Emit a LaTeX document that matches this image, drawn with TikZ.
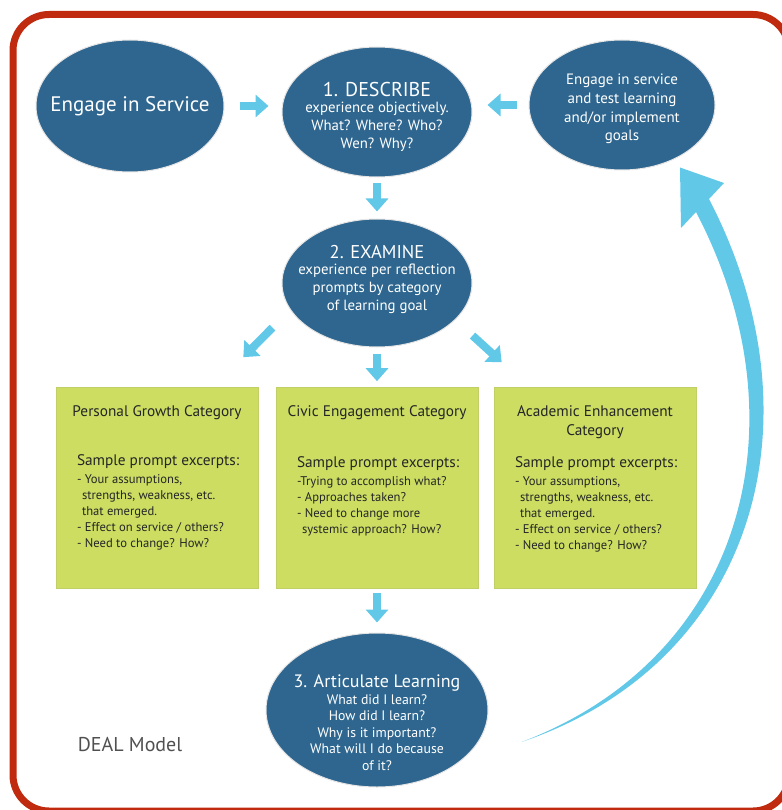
\documentclass[tikz,border=0pt]{standalone}
\usepackage{fontspec}
\setmainfont{PT Sans}
\usetikzlibrary{shapes.geometric, positioning, arrows.meta, calc}

\definecolor{stageblue}{RGB}{46,102,143}
\definecolor{boxgreen}{RGB}{204,221,98}
\definecolor{arrowblue}{RGB}{98,200,232}
\definecolor{framered}{RGB}{192,42,14}
\definecolor{labelgray}{RGB}{80,80,80}

\newcommand{\stagetitle}{\fontsize{20}{24}\selectfont}
\newcommand{\stagetext}{\fontsize{14.8}{17.8}\selectfont}
\newcommand{\cardtitle}{\fontsize{15.3}{19}\selectfont}
\newcommand{\cardsample}{\fontsize{15.3}{18}\selectfont}
\newcommand{\carditem}{\fontsize{12.6}{16}\selectfont}

\tikzset{
  stage/.style={ellipse, fill=stageblue, draw=gray!20, line width=1pt,
    text=white, align=center, inner sep=-40pt, font=\stagetext},
  promptbox/.style={rectangle, fill=boxgreen, draw=boxgreen!85!gray,
    line width=0.6pt, minimum width=202pt, minimum height=201pt,
    inner sep=0pt, text=black!85},
  blockarrow/.style={draw=arrowblue, line width=8pt,
    -{Triangle[width=22pt,length=13pt]}},
}

\begin{document}
\begin{tikzpicture}[x=1pt, y=-1pt, on grid]
\useasboundingbox (0,0) rectangle (781,810);
\draw[framered, line width=7pt, rounded corners=36pt] (13,14.5) rectangle (789,811);

% stages of the model
\node[stage, minimum width=190pt, minimum height=130pt] (describe) at (377,112)
  {\mbox{}\\[6pt]{\stagetitle 1. DESCRIBE}\\[-1pt] experience objectively.\\ What? Where? Who?\\ Wen? Why?};
\node[stage, minimum width=188pt, minimum height=132pt, left=247pt of describe, yshift=6pt,
  font=\fontsize{21}{24}\selectfont] (engage) {Engage in Service};
\node[stage, minimum width=186pt, minimum height=130pt, right=245pt of describe, yshift=7pt,
  font=\fontsize{15}{18.7}\selectfont] (goal)
  {\mbox{}\\ Engage in service\\ and test learning\\ and/or implement\\ goals};
\node[stage, minimum width=190pt, minimum height=128pt, below=171pt of describe] (examine)
  {{\fontsize{18.5}{24}\selectfont 2. EXAMINE}\\[-2pt] experience per reflection\\ prompts by category\\ of learning goal\\[-8pt]\mbox{}};

% prompt categories
\node[promptbox, below=205pt of examine] (civic)
  {\parbox[c][170pt][t]{184pt}{\vspace*{3pt}\centering\cardtitle Civic Engagement Category\par
   \vspace{32pt}\raggedright\leftskip=12pt
   {\cardsample Sample prompt excerpts:}\\[1.5pt]
   \carditem -Trying to accomplish what?\\
   - Approaches taken?\\
   - Need to change more\\
   \hspace*{5pt}systemic approach? How?\par}};
\node[promptbox, left=220pt of civic] (personal)
  {\parbox[c][170pt][t]{184pt}{\vspace*{3pt}\centering\cardtitle Personal Growth Category\par
   \vspace{30pt}\raggedright\leftskip=12pt
   {\cardsample Sample prompt excerpts:}\\[1.5pt]
   \carditem - Your assumptions,\\
   \hspace*{5pt}strengths, weakness, etc.\\
   \hspace*{5pt}that emerged.\\
   - Effect on service / others?\\
   - Need to change? How?\par}};
\node[promptbox, right=218pt of civic] (academic)
  {\parbox[c][170pt][t]{184pt}{\vspace*{3pt}\centering\cardtitle Academic Enhancement\\ Category\par
   \vspace{13pt}\raggedright\leftskip=12pt
   {\cardsample Sample prompt excerpts:}\\[1.5pt]
   \carditem - Your assumptions,\\
   \hspace*{5pt}strengths, weakness, etc.\\
   \hspace*{5pt}that emerged.\\
   - Effect on service / others?\\
   - Need to change? How?\par}};

\node[stage, minimum width=222pt, minimum height=154pt, below=222pt of civic,
  font=\fontsize{13.8}{16.5}\selectfont] (articulate)
  {\mbox{}\\[22pt]{\fontsize{18}{22}\selectfont 3. Articulate Learning}\\[0pt]
   What did I learn?\\ How did I learn?\\ Why is it important?\\
   What will I do because\\ of it?};

\node[text=labelgray, font=\fontsize{20}{24}\selectfont] (caption) at (130,745) {DEAL Model};

% connectors
\draw[blockarrow, shorten <=15pt, shorten >=13pt] (engage.east) -- (engage.east -| describe.west);
\draw[blockarrow, shorten <=12pt, shorten >=15pt] (goal.west) -- (goal.west -| describe.east);
\draw[blockarrow, shorten <=6pt, shorten >=7pt] (describe.south) -- (examine.north);
\draw[blockarrow, shorten <=6pt, shorten >=6pt] (examine.south) -- (civic.north);
\draw[blockarrow] ($(examine.south west)+(-37,-1)$) -- ($(personal.north east)+(-15,-30)$);
\draw[blockarrow] ($(examine.south east)+(28,7)$) -- ($(academic.north west)+(8,-25)$);
\draw[blockarrow, shorten <=4pt, shorten >=10pt] (civic.south) -- (articulate.north);

% loop back to service
\coordinate (loopstart) at ($(articulate.east)+(33,32)$);
\coordinate (looptip) at ($(goal.south)+(58,-3)$);
\fill[arrowblue] (loopstart) .. controls (755,663) and (824,420) .. (709,199)
  -- (724,183) -- (looptip) -- (681,228) -- (696,212)
  .. controls (806,422) and (745,657) .. (loopstart) -- cycle;
\end{tikzpicture}
\end{document}
